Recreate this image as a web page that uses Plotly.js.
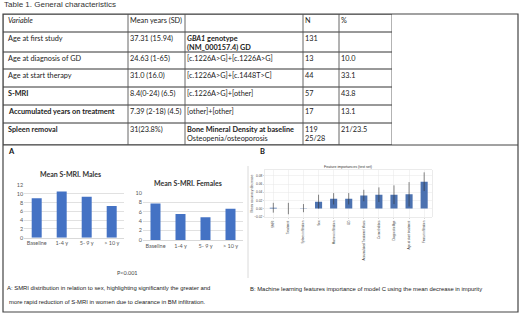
<!DOCTYPE html>
<html>
<head>
<meta charset="utf-8">
<script src="https://cdn.plot.ly/plotly-3.0.1.min.js"></script>
<style>html,body{margin:0;padding:0;background:#fff;}#chart{width:520px;height:316px;}</style>
</head>
<body>
<div id="chart"></div>
<script>
// ---- Table data ----
var tableHeader = ["<i>Variable</i>", "Mean years (SD)", "", "N", "%"];
var colVariable = ["Age at first study", "Age at diagnosis of GD", "Age at start therapy", "<b>S-MRI</b>", "<b>Accumulated years on treatment</b>", "<b>Spleen removal</b>"];
var colMean = ["37.31 (15.94)", "24.63 (1-65)", "31.0 (16.0)", "8.4(0-24) (6.5)", "7.39 (2-18) (4.5)", "31(23.8%)"];
var colGenotype = ["<b><i>GBA1</i> genotype<br>(NM_000157.4) GD</b>", "[c.1226A&gt;G]+[c.1226A&gt;G]", "[c.1226A&gt;G]+[c.1448T&gt;C]", "[c.1226A&gt;G]+[other]", "[other]+[other]", "<b>Bone Mineral Density at baseline</b><br>Osteopenia/osteoporosis"];
var colN = ["131", "13", "44", "57", "17", "119<br>25/28"];
var colPct = ["", "10.0", "33.1", "43.8", "13.1", "<br>21/23.5"];

// ---- Panel A data ----
var periods = ["Baseline", "1-4 y", "5- 9 y", "> 10 y"];
var maleSMRI = [9.0, 10.5, 9.3, 7.2];
var femaleSMRI = [7.7, 5.5, 4.8, 6.6];

// ---- Panel B data ----
var features = ["SMRI", "Treatment", "Spleen infiltration", "Sex", "Marrow infiltration", "GD", "Accumulated Treatment Years", "Comorbidities", "Diagnostic Age", "Age at start treatment", "Femur infiltration"];
var importance = [0.002, 0.0, 0.001, 0.017, 0.024, 0.024, 0.032, 0.034, 0.034, 0.035, 0.066];
var importanceErr = [0.012, 0.014, 0.010, 0.017, 0.014, 0.014, 0.014, 0.018, 0.023, 0.030, 0.023];

var W = 520, H = 316;
function px(x){return x/W;}
function py(y){return 1 - y/H;}

var excelFont = "Lato, 'Open Sans', sans-serif";
var arial = "'Liberation Sans', Arial, sans-serif";
var blueX = "#4472C4";
var blueB = "#4C72B0";

// table geometry (layout, in table-axis units)
var colEdges = [0, 125, 182, 300, 336, 389];
var colPad = [3.8, 0.6, 1.4, 0.8, 0.8];
var rowEdges = [0, 18, 38, 55, 73, 91, 109, 131];
var tableCols = [colVariable, colMean, colGenotype, colN, colPct];

var traces = [
  {
    type: "bar", x: periods, y: maleSMRI, xaxis: "x", yaxis: "y",
    width: 0.4, marker: {color: blueX}, showlegend: false, hoverinfo: "skip"
  },
  {
    type: "bar", x: periods, y: femaleSMRI, xaxis: "x2", yaxis: "y2",
    width: 0.4, marker: {color: blueX}, showlegend: false, hoverinfo: "skip"
  },
  {
    type: "bar", x: features, y: importance, xaxis: "x3", yaxis: "y3",
    width: 0.47, marker: {color: blueB},
    error_y: {type: "data", array: importanceErr, visible: true, color: "#333", thickness: 0.6, width: 0},
    showlegend: false, hoverinfo: "skip"
  }
];

var excelX = {
  showgrid: false, showline: true, linecolor: "#d9d9d9", linewidth: 1,
  ticks: "", tickfont: {family: excelFont, size: 5.5, color: "#595959"},
  fixedrange: true
};
var excelY = {
  showgrid: true, gridcolor: "#d9d9d9", gridwidth: 0.8, zeroline: false,
  showline: false, ticks: "", dtick: 2,
  tickfont: {family: excelFont, size: 5.5, color: "#595959"}, fixedrange: true
};

var shapes = [
  {type: "rect", xref: "paper", yref: "paper", x0: px(3), x1: px(518), y0: py(312), y1: py(14), line: {color: "#444", width: 1.2}},
  {type: "line", xref: "paper", yref: "paper", x0: px(3), x1: px(518), y0: py(145), y1: py(145), line: {color: "#444", width: 1}},
  {type: "line", xref: "paper", yref: "paper", x0: px(248), x1: px(248), y0: py(278), y1: py(166), line: {color: "#d0d0d0", width: 0.8}}
];
// table grid lines
rowEdges.forEach(function(r){
  shapes.push({type: "line", xref: "x4", yref: "y4", x0: colEdges[0], x1: colEdges[colEdges.length-1], y0: r, y1: r, line: {color: "#333", width: 1}});
});
colEdges.forEach(function(c){
  shapes.push({type: "line", xref: "x4", yref: "y4", x0: c, x1: c, y0: rowEdges[0], y1: rowEdges[rowEdges.length-1], line: {color: "#555", width: 0.9}});
});

var annotations = [
  {text: "Table 1. General characteristics", x: px(2), y: py(5), xref: "paper", yref: "paper", xanchor: "left", yanchor: "middle", showarrow: false, font: {family: arial, size: 8, color: "#333"}},
  {text: "<b>A</b>", x: px(6), y: py(151), xref: "paper", yref: "paper", xanchor: "left", yanchor: "middle", showarrow: false, font: {family: excelFont, size: 7.5, color: "#111"}},
  {text: "<b>B</b>", x: px(258), y: py(151), xref: "paper", yref: "paper", xanchor: "left", yanchor: "middle", showarrow: false, font: {family: excelFont, size: 7.5, color: "#111"}},
  {text: "<b>Mean S-MRI. Males</b>", x: px(70), y: py(173.5), xref: "paper", yref: "paper", xanchor: "center", yanchor: "middle", showarrow: false, font: {family: excelFont, size: 7, color: "#333"}},
  {text: "<b>Mean S-MRI. Females</b>", x: px(188), y: py(182.7), xref: "paper", yref: "paper", xanchor: "center", yanchor: "middle", showarrow: false, font: {family: excelFont, size: 7, color: "#333"}},
  {text: "P&lt;0.001", x: px(127), y: py(273), xref: "paper", yref: "paper", xanchor: "center", yanchor: "middle", showarrow: false, font: {family: excelFont, size: 5.5, color: "#444"}},
  {text: "A: SMRI distribution in relation to sex, highlighting significantly the greater and", x: px(5), y: py(287.5), xref: "paper", yref: "paper", xanchor: "left", yanchor: "middle", showarrow: false, font: {family: arial, size: 5.9, color: "#222"}},
  {text: "more rapid reduction of S-MRI in women due to clearance in BM infiltration.", x: px(7), y: py(302), xref: "paper", yref: "paper", xanchor: "left", yanchor: "middle", showarrow: false, font: {family: arial, size: 5.9, color: "#222"}},
  {text: "B: Machine learning features importance of model C using the mean decrease in impurity", x: px(248), y: py(289), xref: "paper", yref: "paper", xanchor: "left", yanchor: "middle", showarrow: false, font: {family: arial, size: 5.9, color: "#222"}},
  {text: "Feature importances (test set)", x: px(348), y: py(166.5), xref: "paper", yref: "paper", xanchor: "center", yanchor: "middle", showarrow: false, font: {family: arial, size: 3.6, color: "#333"}},
  {text: "Mean accuracy decrease", x: px(251.5), y: py(194), xref: "paper", yref: "paper", xanchor: "center", yanchor: "middle", textangle: -90, showarrow: false, font: {family: arial, size: 3.4, color: "#444"}}
];
// table header and cells
var tableFont = {family: excelFont, size: 7.3, color: "#222"};
tableHeader.forEach(function(t, c){
  if (!t) return;
  annotations.push({text: t, x: colEdges[c] + colPad[c], y: rowEdges[0] + 1.2, xref: "x4", yref: "y4",
    xanchor: "left", yanchor: "top", align: "left", showarrow: false, borderpad: 0, font: tableFont});
});
tableCols.forEach(function(col, c){
  col.forEach(function(t, r){
    if (!t) return;
    annotations.push({text: t, x: colEdges[c] + colPad[c], y: rowEdges[r+1] + 1.2, xref: "x4", yref: "y4",
      xanchor: "left", yanchor: "top", align: "left", showarrow: false, borderpad: 0, font: tableFont});
  });
});

var layout = {
  width: W, height: H,
  margin: {l: 0, r: 0, t: 0, b: 0},
  paper_bgcolor: "#ffffff", plot_bgcolor: "rgba(0,0,0,0)",
  showlegend: false,
  xaxis: Object.assign({}, excelX, {domain: [px(24.2), px(124.2)], anchor: "y"}),
  yaxis: Object.assign({}, excelY, {domain: [py(237.7), py(185)], range: [0, 12], anchor: "x"}),
  xaxis2: Object.assign({}, excelX, {domain: [px(143), px(243)], anchor: "y2"}),
  yaxis2: Object.assign({}, excelY, {domain: [py(240), py(192.7)], range: [0, 10], anchor: "x2"}),
  xaxis3: {
    domain: [px(265), px(431.7)], anchor: "y3", range: [-0.55, 10.5],
    showgrid: true, gridcolor: "#e8e8e8", gridwidth: 0.5,
    showline: true, mirror: true, linecolor: "#dddddd", linewidth: 0.6,
    ticks: "outside", ticklen: 1.5, tickcolor: "#999", tickwidth: 0.4,
    tickangle: -90, tickfont: {family: arial, size: 3, color: "#444"}, fixedrange: true
  },
  yaxis3: {
    domain: [py(217.3), py(170)], anchor: "x3", range: [-0.0215, 0.0947],
    dtick: 0.02, tickformat: ".2f", zeroline: false,
    showgrid: true, gridcolor: "#e8e8e8", gridwidth: 0.5,
    showline: true, mirror: true, linecolor: "#dddddd", linewidth: 0.6,
    ticks: "outside", ticklen: 1.5, tickcolor: "#999", tickwidth: 0.4,
    tickfont: {family: arial, size: 3.2, color: "#444"},
    fixedrange: true
  },
  xaxis4: {domain: [px(3), px(392)], range: [0, 389], anchor: "y4", visible: false, fixedrange: true},
  yaxis4: {domain: [py(145), py(14)], range: [131, 0], anchor: "x4", visible: false, fixedrange: true},
  shapes: shapes,
  annotations: annotations
};

Plotly.newPlot("chart", traces, layout, {displayModeBar: false, staticPlot: true});
</script>
</body>
</html>
